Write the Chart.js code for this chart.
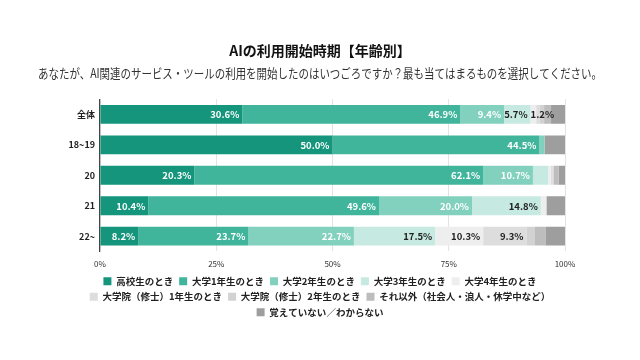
<!DOCTYPE html>
<html>
<head>
<meta charset="utf-8">
<script src="https://cdn.jsdelivr.net/npm/chart.js@4.4.0/dist/chart.umd.min.js"></script>
<style>
  html, body { margin: 0; padding: 0; background: #fff; }
  #wrap { width: 640px; height: 360px; }
</style>
</head>
<body>
<div id="wrap"><canvas id="chart"></canvas></div>
<script>
// 年齢区分
const groups = ["全体", "18~19", "20", "21", "22~"];

// 回答区分
const answers = [
  "高校生のとき", "大学1年生のとき", "大学2年生のとき", "大学3年生のとき", "大学4年生のとき",
  "大学院（修士）1年生のとき", "大学院（修士）2年生のとき",
  "それ以外（社会人・浪人・休学中など）", "覚えていない／わからない"
];

// 各回答の割合（%）: 全体, 18~19, 20, 21, 22~
const highSchool = [30.6, 50.0, 20.3, 10.4, 8.2];
const univ1      = [46.9, 44.5, 62.1, 49.6, 23.7];
const univ2      = [9.4, 1.1, 10.7, 20.0, 22.7];
const univ3      = [5.7, 0.0, 3.3, 14.8, 17.5];
const univ4      = [1.2, 0.0, 0.5, 1.2, 10.3];
const master1    = [0.8, 0.0, 0.4, 0.0, 9.3];
const master2    = [0.9, 0.0, 0.3, 0.0, 1.7];
const other      = [1.5, 0.0, 1.0, 0.0, 2.5];
const unknown    = [3.0, 4.4, 1.4, 4.0, 4.1];

const series = [highSchool, univ1, univ2, univ3, univ4, master1, master2, other, unknown];
const colors = ["#14957c", "#41b59c", "#82d0be", "#c6eae1", "#eeeeee",
                "#dddddd", "#d2d2d2", "#bdbdbd", "#9e9e9e"];

// 値ラベル（小さい区分は表示しない）
const labelMin = 5;
const extraLabels = [[4, 0]]; // [dataset, 行] 全体の大学4年

const valueLabels = {
  id: "valueLabels",
  afterDatasetsDraw(chart) {
    const ctx = chart.ctx;
    ctx.save();
    ctx.font = "bold 9.5px 'Noto Sans CJK JP', sans-serif";
    ctx.textAlign = "left";
    ctx.textBaseline = "middle";
    const lastRight = {};
    chart.data.datasets.forEach((ds, d) => {
      if (d > 5) return;
      const meta = chart.getDatasetMeta(d);
      meta.data.forEach((bar, i) => {
        const v = ds.data[i];
        const extra = extraLabels.some(e => e[0] === d && e[1] === i);
        if (v < labelMin && !extra) return;
        const txt = v.toFixed(1) + "%";
        const w = ctx.measureText(txt).width;
        let left = bar.x - 3 - w;
        // 重なる場合は右へずらす
        if (lastRight[i] !== undefined && left < lastRight[i] + 3) left = lastRight[i] + 3;
        lastRight[i] = left + w;
        ctx.fillStyle = d < 3 ? "#ffffff" : "#222222";
        ctx.fillText(txt, left, bar.y + 0.5);
      });
    });
    ctx.restore();
  }
};

const ctx = document.getElementById("chart").getContext("2d");
new Chart(ctx, {
  type: "bar",
  data: {
    labels: groups,
    datasets: answers.map((name, k) => ({
      label: name,
      data: series[k],
      backgroundColor: colors[k],
      borderWidth: 0,
      barPercentage: 0.62,
      categoryPercentage: 1.0
    }))
  },
  options: {
    indexAxis: "y",
    responsive: true,
    maintainAspectRatio: false,
    animation: false,
    layout: { padding: { left: 38, right: 38, top: 42, bottom: 33 } },
    scales: {
      x: {
        stacked: true,
        min: 0,
        max: 100,
        ticks: {
          stepSize: 25,
          callback: v => v + "%",
          color: "#333",
          font: { size: 8, family: "'Noto Sans CJK JP', sans-serif" },
          padding: 8
        },
        grid: { color: "#e3e3e3", drawTicks: false },
        border: { display: false },
        afterFit: s => { s.height -= 6.5; }
      },
      y: {
        stacked: true,
        ticks: {
          color: "#222",
          font: { size: 9, weight: "bold", family: "'Noto Sans CJK JP', sans-serif" },
          padding: 5
        },
        grid: { display: false, drawTicks: false },
        border: { color: "#444", width: 1.2 },
        afterFit: s => { s.width = 62; }
      },
      // 右側の余白用（表示なし）
      yRight: {
        type: "linear",
        position: "right",
        ticks: { display: false },
        grid: { display: false },
        border: { display: false },
        afterFit: s => { s.width = 37; }
      }
    },
    plugins: {
      title: {
        display: true,
        text: "AIの利用開始時期【年齢別】",
        color: "#111",
        font: { size: 14, weight: "bold", family: "'Noto Sans CJK JP', sans-serif" },
        padding: { top: 0, bottom: 7 }
      },
      subtitle: {
        display: true,
        text: "あなたが、AI関連のサービス・ツールの利用を開始したのはいつごろですか？最も当てはまるものを選択してください。",
        color: "#333",
        font: { size: 12.8, family: "'Noto Sans CJK JP', sans-serif" },
        padding: { bottom: 18 }
      },
      legend: {
        position: "bottom",
        labels: {
          boxWidth: 8,
          boxHeight: 8,
          padding: 6,
          color: "#222",
          font: { size: 9.5, weight: "bold", family: "'Noto Sans CJK JP', sans-serif" }
        }
      },
      tooltip: { enabled: false }
    }
  },
  plugins: [valueLabels]
});
</script>
</body>
</html>
